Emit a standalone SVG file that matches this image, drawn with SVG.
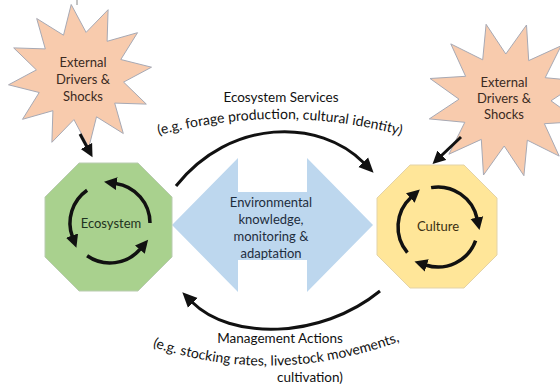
<svg xmlns="http://www.w3.org/2000/svg" width="560" height="387" viewBox="0 0 560 387">
<style>
text{font-family:Lato,"Open Sans","Liberation Sans",sans-serif;font-size:13px;text-anchor:middle}
.star{fill:#f8cbad;stroke:#a7a9b4;stroke-width:1}
.lbl{fill:#3b2a22}
.cyc{fill:none;stroke:#111;stroke-width:3.5}
.con{fill:none;stroke:#111;stroke-width:3}
.cap{fill:#111;font-size:13.5px}
.arc{fill:#111;font-size:14px}
</style>
<defs>
<marker id="ah" markerUnits="userSpaceOnUse" markerWidth="14" markerHeight="14" viewBox="0 -6 12 12" refX="1" refY="0" orient="auto"><path d="M0,-5.5 L11,0 L0,5.5 z" fill="#111"/></marker>
<marker id="ah2" markerUnits="userSpaceOnUse" markerWidth="16" markerHeight="16" viewBox="0 -7 14 14" refX="1" refY="0" orient="auto"><path d="M0,-6 L13,0 L0,6 z" fill="#111"/></marker>
<path id="topArc" d="M152,137 Q280,101 408,137"/>
<path id="botArc" d="M144,344 Q276,390 408,338"/>
</defs>
<line x1="77" y1="0" x2="77" y2="5" stroke="#888" stroke-width="1"/>
<g id="star-left">
<polygon class="star" points="108.1,9.7 107.1,41.3 137.5,32.7 120.8,59.5 151.5,67.2 123.6,82.1 146.3,104.1 114.7,103.1 123.3,133.5 96.5,116.8 88.8,147.5 73.9,119.6 51.9,142.3 52.9,110.7 22.5,119.3 39.2,92.5 8.5,84.8 36.4,69.9 13.7,47.9 45.3,48.9 36.7,18.5 63.5,35.2 71.2,4.5 86.1,32.4"/>
<text class="lbl" x="83" y="67">External</text>
<text class="lbl" x="83" y="84">Drivers &amp;</text>
<text class="lbl" x="83" y="101">Shocks</text>
</g>
<g id="star-right">
<polygon class="star" points="526.5,25 528.7,60.6 561.1,45.8 545.2,77.7 580.7,81.1 551,100.8 580,121.5 544.4,123.7 559.2,156.1 527.3,140.2 523.9,175.7 504.2,146 483.5,175 481.3,139.4 448.9,154.2 464.8,122.3 429.3,118.9 459,99.2 430,78.5 465.6,76.3 450.8,43.9 482.7,59.8 486.1,24.3 505.8,54"/>
<text class="lbl" x="504" y="87">External</text>
<text class="lbl" x="504" y="103">Drivers &amp;</text>
<text class="lbl" x="504" y="119">Shocks</text>
</g>
<g id="knowledge">
<polygon points="172,225 238,158 238,192 307,192 307,158 373,225 307,292 307,260 238,260 238,292" fill="#bdd7ee"/>
<text x="271" y="207" fill="#1e2d3d">Environmental</text>
<text x="271" y="224" fill="#1e2d3d">knowledge,</text>
<text x="271" y="241" fill="#1e2d3d">monitoring &amp;</text>
<text x="271" y="258" fill="#1e2d3d">adaptation</text>
</g>
<g id="ecosystem">
<polygon points="79,163 138,163 172,197 172,257 138,291 79,291 45,257 45,197" fill="#a9d18e" stroke="#b9ccb0" stroke-width="1"/>
<text x="111" y="228" fill="#1f3320">Ecosystem</text>
<path class="cyc" d="M150,223 A40,40 0 0 0 115.6,183.4" marker-end="url(#ah)"/>
<path class="cyc" d="M87.1,190.2 A40,40 0 0 0 72.4,236.7" marker-end="url(#ah)"/>
<path class="cyc" d="M87.1,255.8 A40,40 0 0 0 140.6,248.7" marker-end="url(#ah)"/>
</g>
<g id="culture">
<polygon points="410,165 464,165 497,198 497,255 464,288 410,288 377,255 377,198" fill="#ffe699" stroke="#e3d3a8" stroke-width="1"/>
<text x="438" y="231" fill="#3a2f12">Culture</text>
<path class="cyc" d="M431.1,187.6 A40,40 0 0 1 477.1,218.7" marker-end="url(#ah)"/>
<path class="cyc" d="M475.6,240.7 A40,40 0 0 1 425.6,265" marker-end="url(#ah)"/>
<path class="cyc" d="M407.4,252.7 A40,40 0 0 1 411.2,197.3" marker-end="url(#ah)"/>
</g>
<g id="connectors">
<line class="con" x1="80" y1="134" x2="87" y2="147" marker-end="url(#ah)"/>
<line class="con" x1="461" y1="137" x2="441" y2="156" marker-end="url(#ah)"/>
<path class="con" d="M176,186 C230,118 320,118 364,163" marker-end="url(#ah2)"/>
<path class="con" d="M380,291 C320,340 230,340 192,302" marker-end="url(#ah2)"/>
</g>
<g id="labels">
<text x="281" y="102" class="cap">Ecosystem Services</text>
<text class="arc"><textPath href="#topArc" startOffset="50%">(e.g. forage production, cultural identity)</textPath></text>
<text x="280" y="343" class="cap">Management Actions</text>
<text class="arc"><textPath href="#botArc" startOffset="50%">(e.g. stocking rates, livestock movements,</textPath></text>
<text x="310" y="382" class="cap">cultivation)</text>
</g>
</svg>
